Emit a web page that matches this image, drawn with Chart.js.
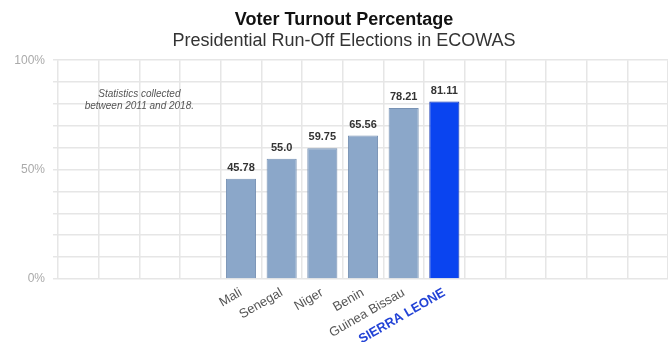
<!DOCTYPE html>
<html>
<head>
<meta charset="utf-8">
<script src="https://cdn.jsdelivr.net/npm/chart.js@4"></script>
<style>
  html,body{margin:0;padding:0;background:#fff;}
  #wrap{width:668px;height:342px;}
</style>
</head>
<body>
<div id="wrap"><canvas id="chart" width="668" height="342"></canvas></div>
<script>
/* ---- data ---- */
const countries = ['', '', '', '', 'Mali', 'Senegal', 'Niger', 'Benin', 'Guinea Bissau', 'SIERRA LEONE', '', '', '', '', ''];
const turnout   = [null, null, null, null, 45.78, 55.0, 59.75, 65.56, 78.21, 81.11, null, null, null, null, null];
const turnoutTx = ['', '', '', '', '45.78', '55.0', '59.75', '65.56', '78.21', '81.11', '', '', '', '', ''];
const yTicks    = [0, 50, 100];
const noteLines = ['Statistics collected', 'between 2011 and 2018.'];
const highlight = 9;   // Sierra Leone

const FONT = "'Liberation Sans', Arial, Helvetica, sans-serif";
const GRID = '#e6e6e6';

/* value labels over bars */
const valueLabels = {
  id:'valueLabels',
  afterDatasetsDraw(c){
    const ctx = c.ctx, meta = c.getDatasetMeta(0);
    ctx.save();
    ctx.font = 'bold 11px ' + FONT;
    ctx.fillStyle = '#333';
    ctx.textAlign = 'center';
    ctx.textBaseline = 'alphabetic';
    meta.data.forEach((bar, i) => {
      if (turnout[i] == null) return;
      ctx.fillText(turnoutTx[i], bar.x, bar.y - 8);
    });
    ctx.restore();
  }
};

/* note in the empty left part */
const note = {
  id:'note',
  afterDraw(c){
    const x = c.scales.x, y = c.scales.y, ctx = c.ctx;
    const cx = (x.getPixelForValue(1) + x.getPixelForValue(2)) / 2;
    ctx.save();
    ctx.font = 'italic 10px ' + FONT;
    ctx.fillStyle = '#555';
    ctx.textAlign = 'center';
    ctx.textBaseline = 'middle';
    ctx.fillText(noteLines[0], cx, y.getPixelForValue(84.5));
    ctx.fillText(noteLines[1], cx, y.getPixelForValue(79));
    ctx.restore();
  }
};

/* titles sit a bit right of the canvas centre in the original */
const shiftTitles = {
  id:'shiftTitles',
  afterLayout(c){
    c.boxes.forEach(b => {
      if (b.fullSize && b.options && b.options.text !== undefined) b.left += 20;
    });
  }
};

new Chart(document.getElementById('chart'), {
  type:'bar',
  data:{
    labels:countries,
    datasets:[{
      data:turnout,
      backgroundColor:countries.map((_, i) => i === highlight ? '#0a44f0' : '#8ba7c9'),
      borderColor:countries.map((_, i) => i === highlight ? '#0a2fb0' : '#7892b4'),
      borderWidth:1,
      categoryPercentage:1,
      barPercentage:0.74
    }]
  },
  options:{
    responsive:false,
    animation:false,
    layout:{padding:0},
    plugins:{
      legend:{display:false},
      tooltip:{enabled:false},
      title:{
        display:true, text:'Voter Turnout Percentage', color:'#111',
        font:{family:FONT, size:18, weight:'bold'}, padding:{top:9, bottom:0}
      },
      subtitle:{
        display:true, text:'Presidential Run-Off Elections in ECOWAS', color:'#333',
        font:{family:FONT, size:18}, padding:{top:0, bottom:8}
      }
    },
    scales:{
      x:{
        grid:{color:GRID, lineWidth:1.5, drawTicks:false, offset:true},
        border:{display:false},
        ticks:{
          autoSkip:false, minRotation:30, maxRotation:30, padding:6,
          color:ctx => ctx.index === highlight ? '#2343d6' : '#555',
          font:ctx => ctx.index === highlight
            ? {family:FONT, size:13, weight:'bold'}
            : {family:FONT, size:13}
        },
        afterFit:s => { s.height = 63; }
      },
      y:{
        min:0, max:100,
        grid:{color:GRID, lineWidth:1.5, tickLength:5},
        border:{display:false},
        ticks:{
          stepSize:10, padding:8, color:'#aaa',
          font:{family:FONT, size:12},
          callback:v => yTicks.includes(v) ? v + '%' : ''
        },
        afterFit:s => { s.width = 58; }
      }
    }
  },
  plugins:[valueLabels, note, shiftTitles]
});
</script>
</body>
</html>
